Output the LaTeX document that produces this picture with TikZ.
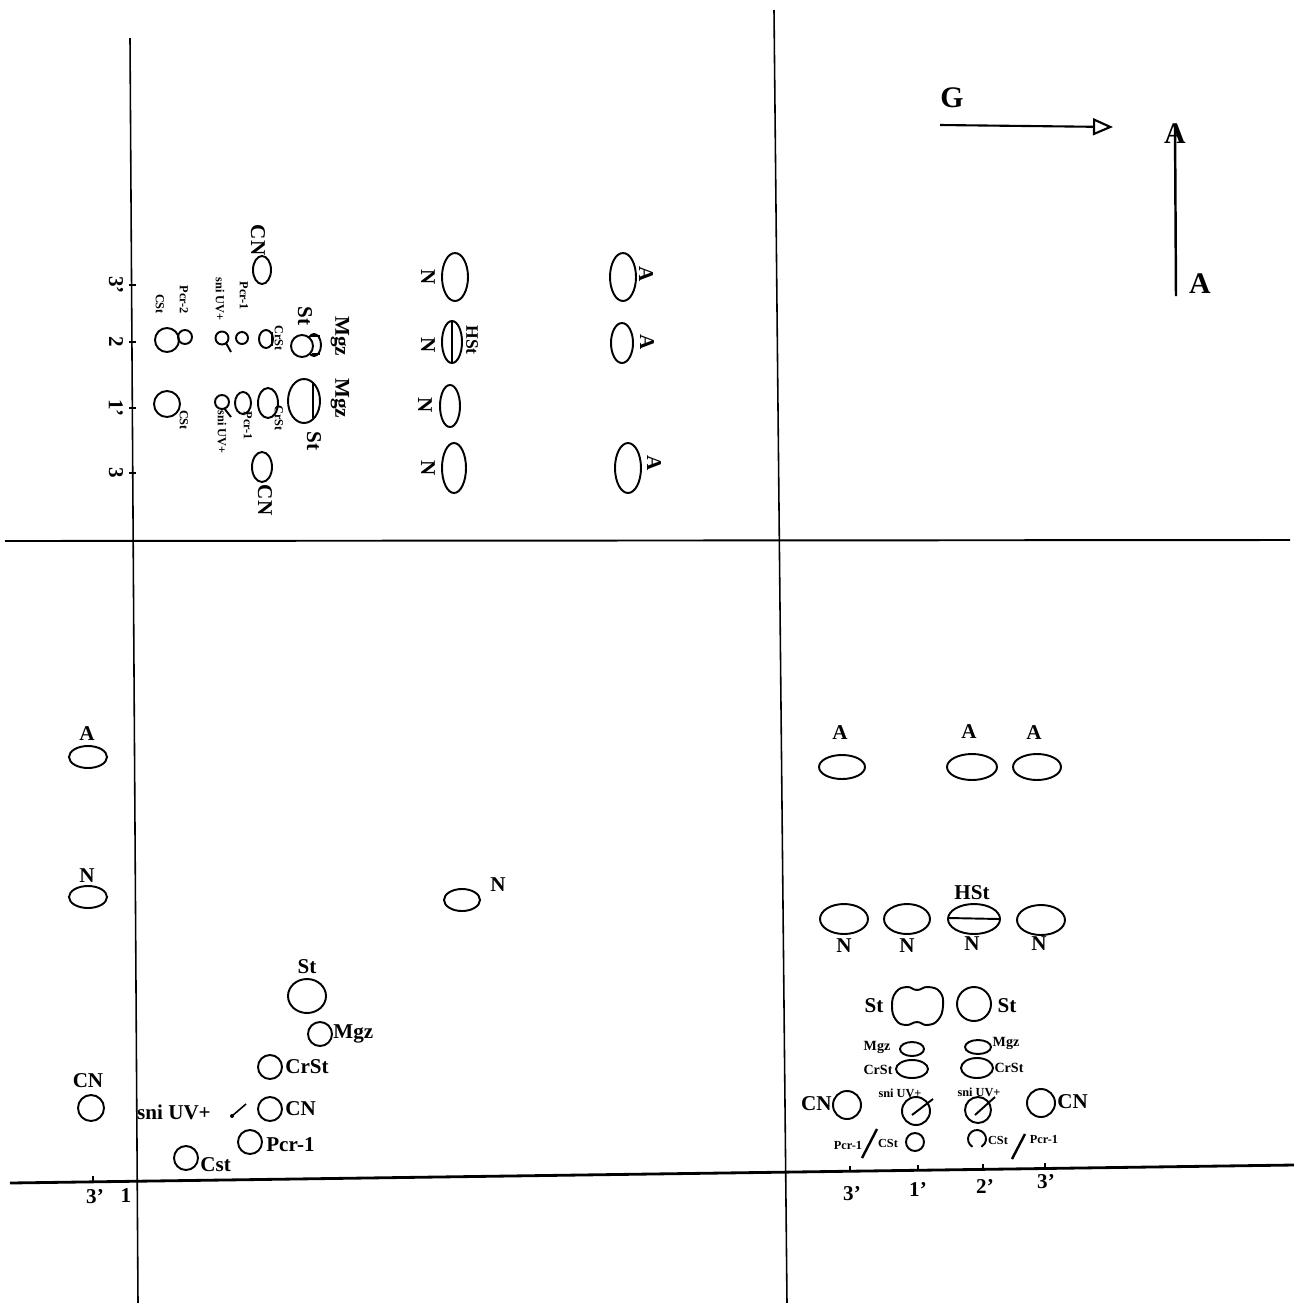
\documentclass[tikz,border=0pt]{standalone}
\usepackage{fontspec}
\setmainfont{Liberation Serif}
\usetikzlibrary{arrows.meta}

\tikzset{
  grain/.style={line width=1.1pt},
  axisline/.style={line width=0.9pt},
  lbl/.style={font=\bfseries\fontsize{12}{12}\selectfont,inner sep=0pt},
  mlbl/.style={font=\bfseries\fontsize{10}{10}\selectfont,inner sep=0pt},
  slbl/.style={font=\bfseries\fontsize{7}{7}\selectfont,inner sep=0pt},
  tlbl/.style={font=\bfseries\fontsize{8}{8}\selectfont,inner sep=0pt},
  biglbl/.style={font=\bfseries\fontsize{17}{17}\selectfont,inner sep=0pt},
  turned/.style={rotate=-90},
}

\begin{document}
\begin{tikzpicture}[x=0.2mm,y=-0.2mm]
\useasboundingbox (0,0) rectangle (1294,1303);
% axes
\draw[axisline] (130,38)--(138,1303);
\draw[axisline] (774,10)--(787,1303);
\draw[line width=1.1pt] (5,541)--(1290,540);
\draw[line width=1.6pt] (10,1183)--(1294,1165);
\foreach \y in {285,342,408,473} \draw[axisline] (129,\y)--(136,\y);
\foreach \x/\y in {93/1181,850/1171,918/1170,983/1169,1045/1168} \draw[axisline] (\x,\y-5)--(\x,\y+1);

% axis numbers
\node[lbl,turned] (ya) at (116,285) {3'};
\node[lbl,turned] (yb) at (116,342) {2};
\node[lbl,turned] (yc) at (116,408) {1'};
\node[lbl,turned] (yd) at (116,473) {3};
\node[lbl] (xa) at (95,1197) {3'};
\node[lbl] (xb) at (126,1196) {1};
\node[lbl] (xc) at (852,1194) {3'};
\node[lbl] (xd) at (918,1189) {1'};
\node[lbl] (xe) at (985,1186) {2'};
\node[lbl] (xf) at (1046,1182) {3'};

% direction arrows
\node[biglbl] (gl) at (952,98) {G};
\coordinate (g0) at (940,125);
\coordinate (g1) at (1113,127);
\draw[line width=1.2pt,-{Triangle[open,length=4mm,width=3.4mm]}] (g0)--(g1);
\coordinate (a0) at (1176,296);
\node[biglbl] (atop) at (1175,134) {A};
\node[biglbl] (abot) at (1200,284) {A};
\draw[line width=1.4pt] (a0)--(atop.north);

% upper left: cluster
\draw[grain] (262,270) ellipse (9 and 14);
\node[lbl,turned] (cn1) at (258,240) {CN};
\draw[grain] (167,340) circle (12);
\draw[grain] (185,337) circle (7);
\node[slbl,turned] (pcr2) at (184,300) {Pcr-2};
\node[slbl,turned] (cst1) at (160,304) {CSt};
\draw[grain] (222,338) circle (6.5);
\draw[grain] (226,343)--(231,352);
\node[slbl,turned] (uv1) at (220,299) {sni UV+};
\draw[grain] (242,338) circle (6);
\node[slbl,turned] (pcr1) at (244,296) {Pcr-1};
\draw[grain] (266,339) ellipse (7 and 9);
\draw[grain] (272,332)--(272,346);
\node[slbl,turned] (crst1) at (279,338) {CrSt};
\draw[grain] (314,345) ellipse (7 and 11);
\draw[grain] (311,336)--(320,336) (312,354)--(320,354);
\draw[grain,fill=white] (302,346) circle (11);
\node[lbl,turned] (st1) at (305,316) {St};
\node[lbl,turned] (mgz1) at (340,336) {Mgz};
\draw[grain] (167,404) circle (13);
\node[slbl,turned] (cst2) at (184,420) {CSt};
\draw[grain] (222,402) circle (7);
\draw[grain] (224,408)--(231,417);
\node[slbl,turned] (uv2) at (222,432) {sni UV+};
\draw[grain] (243,403) ellipse (8 and 11);
\node[slbl,turned] (pcr3) at (248,426) {Pcr-1};
\draw[grain] (268,403) ellipse (10 and 15);
\node[slbl,turned] (crst2) at (279,418) {CrSt};
\draw[grain] (304,401) ellipse (16 and 22);
\draw[grain] (313,383)--(313,419);
\node[lbl,turned] (mgz2) at (340,398) {Mgz};
\node[lbl,turned] (st2) at (314,441) {St};
\draw[grain] (262,467) ellipse (10 and 15);
\node[lbl,turned] (cn2) at (265,500) {CN};

% upper left: N and A
\draw[grain] (455,277) ellipse (13 and 24);
\node[lbl,turned] (n1) at (428,277) {N};
\draw[grain] (452,342) ellipse (10 and 21);
\draw[grain] (452,322)--(452,363);
\node[lbl,turned] (n2) at (428,345) {N};
\node[mlbl,turned] (hst1) at (472,340) {HSt};
\draw[grain] (450,406) ellipse (10 and 21);
\node[lbl,turned] (n3) at (425,405) {N};
\draw[grain] (454,468) ellipse (12 and 25);
\node[lbl,turned] (n4) at (428,468) {N};
\draw[grain] (623,277) ellipse (13 and 24);
\node[lbl,turned] (a1) at (646,274) {A};
\draw[grain] (622,343) ellipse (11 and 20);
\node[lbl,turned] (a2) at (647,342) {A};
\draw[grain] (628,468) ellipse (13 and 25);
\node[lbl,turned] (a3) at (654,463) {A};

% lower left
\draw[grain] (88,757) ellipse (19 and 11);
\node[lbl] (a4) at (87,734) {A};
\draw[grain] (88,897) ellipse (19 and 11);
\node[lbl] (n5) at (87,876) {N};
\draw[grain] (91,1108) circle (13);
\node[lbl] (cn3) at (88,1081) {CN};
\draw[grain] (462,900) ellipse (18 and 11);
\node[lbl] (n6) at (498,885) {N};
\draw[grain] (307,996) ellipse (19 and 17);
\node[lbl] (st3) at (307,967) {St};
\draw[grain] (320,1034) circle (12);
\node[lbl,anchor=west] (mgz3) at (333,1034) {Mgz};
\draw[grain] (270,1067) circle (12);
\node[lbl,anchor=west] (crst3) at (285,1067) {CrSt};
\draw[grain] (270,1109) circle (12);
\node[lbl,anchor=west] (cn4) at (285,1109) {CN};
\node[lbl] (uv3) at (174,1112) {sni UV+};
\draw[line width=0.9pt] (232,1116)--(246,1104);
\fill (232,1116) circle (2);
\draw[grain] (250,1142) circle (12);
\node[lbl,anchor=west] (pcr4) at (266,1145) {Pcr-1};
\draw[grain] (186,1158) circle (12);
\node[lbl,anchor=west] (cst3) at (200,1165) {Cst};

% lower right: A row
\draw[grain] (842,767) ellipse (23 and 12);
\node[lbl] (a5) at (840,733) {A};
\draw[grain] (972,767) ellipse (25 and 13);
\node[lbl] (a6) at (969,732) {A};
\draw[grain] (1037,767) ellipse (24 and 13);
\node[lbl] (a7) at (1034,733) {A};

% lower right: N row
\draw[grain] (844,919) ellipse (24 and 15);
\node[lbl] (n7) at (844,946) {N};
\draw[grain] (907,919) ellipse (23 and 15);
\node[lbl] (n8) at (907,946) {N};
\draw[grain] (974,919) ellipse (26 and 15);
\draw[grain] (949,918)--(999,919);
\node[lbl] (n9) at (972,944) {N};
\node[lbl] (hst2) at (972,893) {HSt};
\draw[grain] (1041,920) ellipse (24 and 15);
\node[lbl] (n10) at (1039,944) {N};

% lower right: St, Mgz, CrSt
\draw[grain] plot[smooth cycle,tension=0.8] coordinates {(892,1006) (896,992) (907,987) (917,990) (928,987) (940,992) (943,1006) (938,1020) (927,1025) (917,1022) (906,1025) (896,1020)};
\node[lbl] (st4) at (874,1006) {St};
\draw[grain] (974,1004) circle (17);
\node[lbl] (st5) at (1007,1006) {St};
\draw[grain] (912,1049) ellipse (12 and 7);
\node[tlbl] (mgz4) at (877,1047) {Mgz};
\draw[grain] (978,1047) ellipse (13 and 7);
\node[tlbl] (mgz5) at (1006,1043) {Mgz};
\draw[grain] (912,1069) ellipse (16 and 9);
\node[tlbl] (crst4) at (878,1070) {CrSt};
\draw[grain] (977,1068) ellipse (16 and 10);
\node[tlbl] (crst5) at (1009,1068) {CrSt};

% lower right: CN, sni UV+
\draw[grain] (847,1105) circle (14);
\node[lbl,anchor=east] (cn5) at (832,1104) {CN};
\draw[grain] (916,1111) circle (14);
\draw[grain] (912,1115)--(933,1099);
\node[slbl] (uv4) at (900,1093) {sni UV+};
\draw[grain] (978,1110) circle (13);
\draw[grain] (975,1115)--(995,1097);
\node[slbl] (uv5) at (979,1092) {sni UV+};
\draw[grain] (1041,1103) circle (14);
\node[lbl,anchor=west] (cn6) at (1057,1102) {CN};

% lower right: Pcr-1 / CSt
\draw[grain] (915,1142) circle (9);
\node[slbl] (cst4) at (888,1143) {CSt};
\draw[line width=1.4pt] (862,1158)--(877,1129);
\node[slbl] (pcr5) at (848,1145) {Pcr-1};
\draw[grain] (972.5,1146.8) arc[start angle=120,end angle=420,radius=9];
\node[slbl] (cst5) at (998,1140) {CSt};
\draw[line width=1.4pt] (1012,1159)--(1025,1134);
\node[slbl] (pcr6) at (1044,1139) {Pcr-1};
\end{tikzpicture}
\end{document}
